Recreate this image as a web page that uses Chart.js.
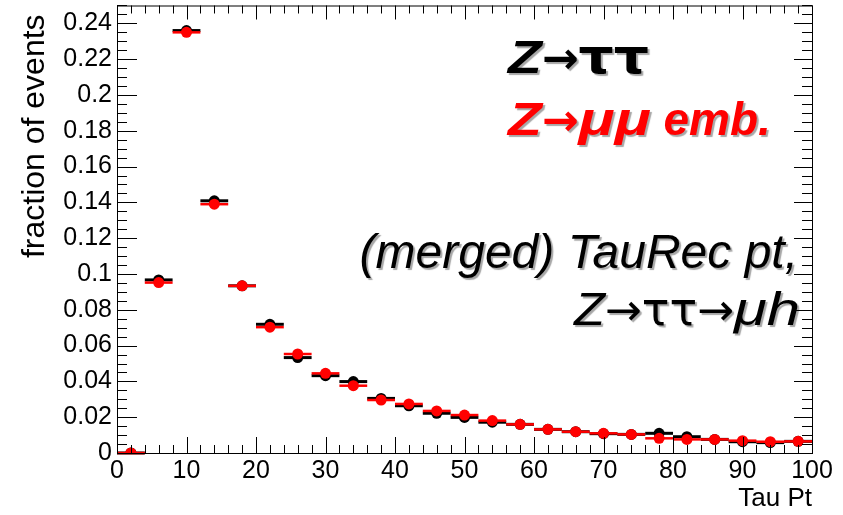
<!DOCTYPE html>
<html>
<head>
<meta charset="utf-8">
<script src="https://cdn.jsdelivr.net/npm/chart.js@4.4.1/dist/chart.umd.min.js"></script>
<style>
  body { margin: 0; background: #fff; }
  canvas { display: block; }
</style>
</head>
<body>
<canvas id="tauPt" width="843" height="515"></canvas>
<script>
// tau pt, 4 GeV bins
const binCenters = [2, 6, 10, 14, 18, 22, 26, 30, 34, 38, 42, 46, 50, 54, 58, 62, 66, 70, 74, 78, 82, 86, 90, 94, 98];
const binWidth = 4;
const zTauTau = [0, 0.0967, 0.236, 0.1409, 0.0934, 0.0719, 0.0533, 0.0432, 0.0399, 0.0305, 0.0264, 0.0222, 0.0199,
                 0.0172, 0.0160, 0.0132, 0.0119, 0.0108, 0.0104, 0.0110, 0.0091, 0.0076, 0.0063, 0.0058, 0.0065];
const zMuMuEmb = [0, 0.0952, 0.235, 0.1390, 0.0934, 0.0703, 0.0553, 0.0445, 0.0376, 0.0296, 0.0274, 0.0235, 0.0212,
                  0.0181, 0.0160, 0.0132, 0.0119, 0.0110, 0.0104, 0.0082, 0.0076, 0.0076, 0.0069, 0.0063, 0.0065];
const xTickValues = [0, 10, 20, 30, 40, 50, 60, 70, 80, 90, 100];
const yTickValues = [0, 0.02, 0.04, 0.06, 0.08, 0.1, 0.12, 0.14, 0.16, 0.18, 0.2, 0.22, 0.24];
const xMinorStep = 2;
const yMinorStep = 0.005;

const FONT = '"Liberation Sans", Arial, sans-serif';
const SYM = '"DejaVu Sans", sans-serif';

const toPoints = ys => binCenters.map((x, i) => ({ x: x, y: ys[i] }));

// horizontal bin-width bars under each marker
const binBars = {
  id: 'binBars',
  beforeDatasetDraw(chart, args) {
    const ds = chart.data.datasets[args.index];
    const { ctx, scales: { x, y } } = chart;
    ctx.save();
    ctx.strokeStyle = ds.borderColor;
    ctx.lineWidth = ds.barWidth;
    ds.data.forEach(p => {
      const py = y.getPixelForValue(p.y);
      ctx.beginPath();
      ctx.moveTo(x.getPixelForValue(p.x - binWidth / 2), py);
      ctx.lineTo(x.getPixelForValue(p.x + binWidth / 2), py);
      ctx.stroke();
    });
    ctx.restore();
  }
};

// ROOT style frame with inward ticks on all four sides
const frame = {
  id: 'frame',
  afterDatasetsDraw(chart) {
    const { ctx, chartArea: a, scales: { x, y } } = chart;
    ctx.save();
    ctx.strokeStyle = '#000';
    ctx.lineWidth = 1;
    ctx.strokeRect(a.left + 0.5, a.top + 0.5, a.right - a.left, a.bottom - a.top);
    ctx.beginPath();
    for (let v = x.min; v <= x.max + 1e-9; v += xMinorStep) {
      const major = Math.abs(v / 10 - Math.round(v / 10)) < 1e-6;
      const px = Math.round(x.getPixelForValue(v)) + 0.5;
      ctx.moveTo(px, a.bottom); ctx.lineTo(px, a.bottom - (major ? 16 : 8));
      ctx.moveTo(px, a.top); ctx.lineTo(px, a.top + (major ? 14 : 8));
    }
    for (let v = y.min; v <= y.max + 1e-9; v += yMinorStep) {
      const major = Math.abs(v / 0.02 - Math.round(v / 0.02)) < 1e-6;
      const py = Math.round(y.getPixelForValue(v)) + 0.5;
      ctx.moveTo(a.left, py); ctx.lineTo(a.left + (major ? 20 : 10), py);
      ctx.moveTo(a.right, py); ctx.lineTo(a.right - (major ? 18 : 10), py);
    }
    ctx.stroke();
    ctx.restore();
  }
};

// shadowed labels in the upper right; each run is [text, font, horizontal stretch]
const labels = {
  id: 'labels',
  afterDraw(chart) {
    const { ctx } = chart;
    const put = (runs, x, y, color, align) => {
      ctx.save();
      ctx.textAlign = 'left';
      ctx.textBaseline = 'alphabetic';
      const widths = runs.map(r => { ctx.font = r[1]; return ctx.measureText(r[0]).width * (r[2] || 1); });
      const total = widths.reduce((s, w) => s + w, 0);
      let cx = align === 'right' ? x - total : x;
      ctx.shadowColor = 'rgba(0,0,0,0.35)';
      ctx.shadowOffsetX = 2;
      ctx.shadowOffsetY = 2;
      ctx.shadowBlur = 1;
      ctx.fillStyle = color;
      runs.forEach((r, i) => {
        const sx = r[2] || 1;
        ctx.save();
        ctx.font = r[1];
        ctx.translate(cx, y);
        ctx.scale(sx, 1);
        ctx.fillText(r[0], 0, 0);
        ctx.restore();
        cx += widths[i];
      });
      ctx.restore();
    };
    const bi = 'italic bold 46px ' + FONT;
    const it = 'italic 46px ' + FONT;
    const arB = 'bold 44px ' + SYM;
    const ar = '44px ' + SYM;
    put([['Z', bi, 1.2], ['\u2192', arB], ['\u03c4\u03c4', 'bold 48px ' + SYM, 1.15]], 508, 73, '#000', 'left');
    put([['Z', bi, 1.2], ['\u2192', arB], ['\u03bc\u03bc', bi, 1.3], [' emb.', bi]], 508, 135, '#f00', 'left');
    put([['(merged) TauRec pt,', 'italic 48px ' + FONT]], 798, 268, '#000', 'right');
    put([['Z', it, 1.1], ['\u2192', ar], ['\u03c4\u03c4', '46px ' + SYM], ['\u2192', ar], ['\u03bch', it, 1.3]],
        800, 325, '#000', 'right');
  }
};

new Chart(document.getElementById('tauPt'), {
  type: 'scatter',
  data: {
    datasets: [
      {
        label: 'Z\u2192\u03bc\u03bc emb.',
        data: toPoints(zMuMuEmb),
        backgroundColor: '#f00',
        borderColor: '#f00',
        pointRadius: 5.5,
        pointBorderWidth: 0,
        barWidth: 2.5
      },
      {
        label: 'Z\u2192\u03c4\u03c4',
        data: toPoints(zTauTau),
        backgroundColor: '#000',
        borderColor: '#000',
        pointRadius: 5.5,
        pointBorderWidth: 0,
        barWidth: 3
      }
    ]
  },
  options: {
    responsive: false,
    animation: false,
    layout: { padding: { top: 5, right: 31, left: 0, bottom: 0 } },
    plugins: { legend: { display: false }, tooltip: { enabled: false } },
    scales: {
      x: {
        type: 'linear',
        min: 0,
        max: 100,
        afterBuildTicks: s => { s.ticks = xTickValues.map(v => ({ value: v })); },
        afterFit: s => { s.height = 62; s.paddingLeft = 0; s.paddingRight = 0; },
        grid: { display: false, drawTicks: false },
        border: { display: false },
        ticks: { color: '#000', font: { family: FONT, size: 25 }, padding: 3, maxRotation: 0, autoSkip: false },
        title: { display: true, text: 'Tau Pt', align: 'end', color: '#000',
                 font: { family: FONT, size: 26 }, padding: { top: 0, bottom: 1 } }
      },
      y: {
        min: 0,
        max: 0.25,
        afterBuildTicks: s => { s.ticks = yTickValues.map(v => ({ value: v })); },
        afterFit: s => { s.width = 117; s.paddingTop = 0; s.paddingBottom = 0; },
        grid: { display: false, drawTicks: false },
        border: { display: false },
        ticks: { color: '#000', font: { family: FONT, size: 25 }, padding: 5,
                 callback: v => String(Number(v.toFixed(2))) },
        title: { display: true, text: 'fraction of events ', align: 'end', color: '#000',
                 font: { family: FONT, size: 32 }, padding: { top: 16, bottom: 0 } }
      }
    }
  },
  plugins: [binBars, frame, labels]
});
</script>
</body>
</html>
